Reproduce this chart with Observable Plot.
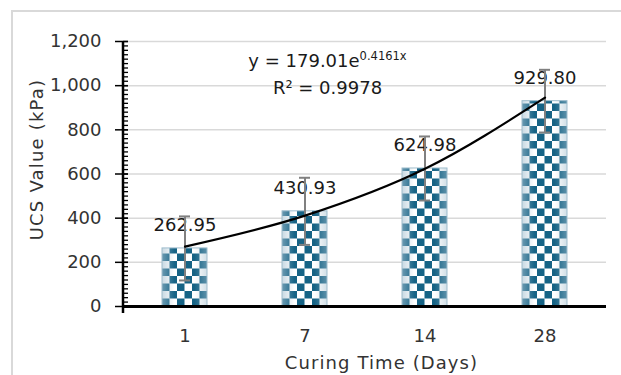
<!DOCTYPE html>
<html>
<head>
<meta charset="utf-8">
<script src="https://cdn.jsdelivr.net/npm/d3@7"></script>
<script src="https://cdn.jsdelivr.net/npm/@observablehq/plot@0.6"></script>
<style>
  html, body { margin: 0; padding: 0; background: #fff; }
  #wrap { position: relative; width: 621px; height: 375px; overflow: hidden; }
  #border { position: absolute; left: 11px; top: 10px; width: 700px; height: 500px;
            border-left: 2px solid #d9d9d9; border-top: 2px solid #d9d9d9; }
  #chart { position: absolute; left: 0; top: 0; }
</style>
</head>
<body>
<div id="wrap"><div id="border"></div><div id="chart"></div></div>
<script>
// ---- data ----
const days = ["1", "7", "14", "28"];
const ucs = [262.95, 430.93, 624.98, 929.80];
const errorBar = [145, 152, 145, 142];
const trendValues = [271.4, 411.5, 623.8, 945.9];   // y = 179.01e^(0.4161x) at x = 1..4
const yTicks = [0, 200, 400, 600, 800, 1000, 1200];
const yMinorTicks = d3.range(0, 1201, 20);
const equationText = ["y = 179.01e", "0.4161x"];
const r2Text = "R² = 0.9978";
const xLabel = "Curing Time (Days)";
const yLabel = "UCS Value (kPa)";

const data = days.map((d, i) => ({day: d, ucs: ucs[i], lo: ucs[i] - errorBar[i], hi: ucs[i] + errorBar[i], trend: trendValues[i]}));

const FONT = "'DejaVu Sans', sans-serif";
const FS = 18;
const TXT = "#333333";
const TEAL = "#166385";

const plot = Plot.plot({
  width: 621,
  height: 375,
  marginLeft: 123,
  marginRight: 15,
  marginTop: 41,
  marginBottom: 69,
  style: {fontFamily: FONT, fontSize: FS + "px", color: TXT, background: "transparent", overflow: "visible"},
  x: {domain: days, paddingInner: 0.625, paddingOuter: 0.3125, axis: null},
  y: {domain: [0, 1200], axis: null},
  marks: [
    Plot.gridY(yTicks.slice(1), {stroke: "#d9d9d9", strokeOpacity: 1, strokeWidth: 1.5}),
    Plot.barY(data, {x: "day", y: "ucs", fill: "url(#chk)"}),
    Plot.barY(data, {x: "day", y: "ucs", fill: "url(#shade)", stroke: "#9dbccc", strokeWidth: 1}),
    Plot.text(data, {x: "day", y: "ucs", text: d => d.ucs.toFixed(2), dy: -17, lineAnchor: "bottom", fill: "#1a1a1a", fontSize: FS}),
    Plot.ruleX(data, {x: "day", y1: "lo", y2: "hi", stroke: "#808080", strokeWidth: 2}),
    Plot.tickY(data, {x: "day", y: "lo", stroke: "#808080", strokeWidth: 2, insetLeft: 17, insetRight: 17}),
    Plot.tickY(data, {x: "day", y: "hi", stroke: "#808080", strokeWidth: 2, insetLeft: 17, insetRight: 17}),
    Plot.line(data, {x: "day", y: "trend", curve: "monotone-x", stroke: "#000", strokeWidth: 2.2}),
    Plot.ruleY([0], {stroke: "#000", strokeWidth: 3}),
    Plot.axisY(yMinorTicks, {tickSize: 5, dx: 5, tickFormat: () => "", stroke: "#000", strokeWidth: 1.3}),
    Plot.axisY(yTicks, {tickSize: 13, dx: 5, tickPadding: 14, tickFormat: d3.format(","), stroke: "#000", strokeWidth: 1.5, fill: TXT, fontSize: FS, label: null}),
    Plot.text(days, {x: d => d, frameAnchor: "bottom", dy: 35, lineAnchor: "bottom", fill: TXT, fontSize: FS})
  ]
});

document.getElementById("chart").appendChild(plot);

// ---- pattern / gradient defs and axis lines derived from the scales ----
const xs = plot.scale("x"), ys = plot.scale("y");
const bw = xs.bandwidth;
const cell = xs.step / 16;
const x0 = xs.apply(days[0]);
const yBase = ys.apply(0);
const yTop = ys.apply(1200);
const left = xs.range[0];
const right = xs.range[1];

const svg = d3.select(plot);
const defs = svg.insert("defs", ":first-child");
const pat = defs.append("pattern").attr("id", "chk").attr("patternUnits", "userSpaceOnUse")
  .attr("x", x0).attr("y", yBase).attr("width", 2 * cell).attr("height", 2 * cell);
pat.append("rect").attr("width", 2 * cell).attr("height", 2 * cell).attr("fill", "#ffffff");
pat.append("rect").attr("x", 0).attr("y", cell).attr("width", cell).attr("height", cell).attr("fill", TEAL);
pat.append("rect").attr("x", cell).attr("y", 0).attr("width", cell).attr("height", cell).attr("fill", TEAL);

const grad = defs.append("linearGradient").attr("id", "shade").attr("x1", 0).attr("x2", 1).attr("y1", 0).attr("y2", 0);
[[0, 0.6], [0.28, 0], [0.72, 0], [1, 0.5]].forEach(([o, a]) =>
  grad.append("stop").attr("offset", o).attr("stop-color", "#a3bfcf").attr("stop-opacity", a));

// y axis line (extends slightly below the x axis at its left end)
svg.append("line").attr("x1", left).attr("x2", left).attr("y1", yTop).attr("y2", yBase + 7)
  .attr("stroke", "#000").attr("stroke-width", 2.5);

// axis titles
svg.append("text").attr("x", (left + right) / 2 + 17).attr("y", yBase + 63).attr("text-anchor", "middle")
  .attr("font-family", FONT).attr("font-size", FS).attr("letter-spacing", 1.1).attr("fill", TXT).text(xLabel);
svg.append("text").attr("transform", `translate(43,${(yTop + yBase) / 2 - 14}) rotate(-90)`).attr("text-anchor", "middle")
  .attr("font-family", FONT).attr("font-size", FS).attr("letter-spacing", 1.2).attr("fill", TXT).text(yLabel);

// equation and R² annotation
const cx = (xs.apply(days[1]) + xs.apply(days[2]) + bw) / 2 - 37;
const eq = svg.append("text").attr("x", cx).attr("y", ys.apply(1083)).attr("text-anchor", "middle")
  .attr("font-family", FONT).attr("font-size", FS).attr("fill", "#1a1a1a");
eq.append("tspan").text(equationText[0]);
eq.append("tspan").attr("font-size", 11.5).attr("dy", -7).text(equationText[1]);
svg.append("text").attr("x", cx).attr("y", ys.apply(958)).attr("text-anchor", "middle")
  .attr("font-family", FONT).attr("font-size", FS).attr("fill", "#1a1a1a").text(r2Text);
</script>
</body>
</html>
